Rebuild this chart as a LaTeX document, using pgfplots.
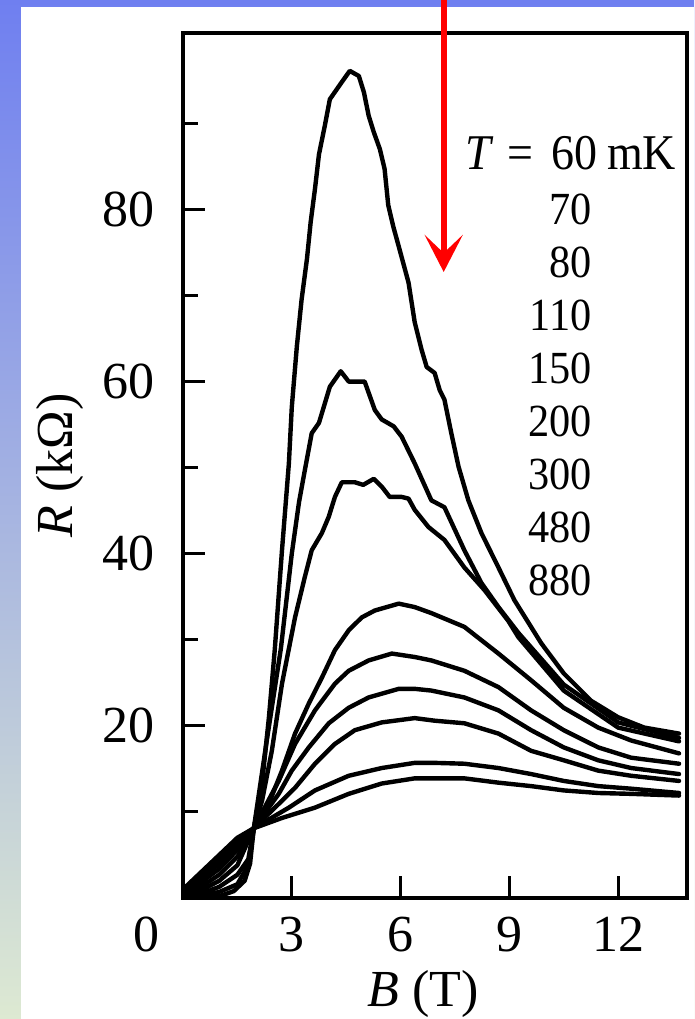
\documentclass[border=0pt]{standalone}
\usepackage{fontspec}
\setmainfont{Liberation Serif}
\usepackage{pgfplots}
\pgfplotsset{compat=1.18}
\usetikzlibrary{arrows.meta}

\definecolor{bandtop}{RGB}{111,127,240}
\definecolor{bandbot}{RGB}{221,233,210}

\newcommand{\bigfont}{\fontsize{52}{52}\selectfont}
\newcommand{\legfont}{\fontsize{46}{46}\selectfont}

\pgfplotsset{curve/.style={black, line width=4.4pt, line join=round, line cap=round, mark=none}}

\begin{document}
\begin{tikzpicture}[x=1pt,y=1pt]
\useasboundingbox (0,0) rectangle (694,1019);
% slide background
\shade[top color=bandtop, bottom color=bandbot] (0,0) rectangle (694,1019);
\fill[white] (21,0) rectangle (694,1012);

\begin{axis}[
    at={(183pt,121pt)}, anchor=south west,
    scale only axis, width=504pt, height=865pt,
    xmin=0, xmax=13.9, ymin=0, ymax=100.5,
    xtick={3,6,9,12}, ytick={20,40,60,80},
    minor ytick={10,30,50,70,90},
    extra x ticks={0}, extra x tick labels={0},
    extra x tick style={major tick length=0pt, xticklabel style={xshift=-37pt}},
    tick pos=left, tick align=inside,
    major tick length=22pt, minor tick length=15pt,
    tick style={black, line width=3pt},
    axis line style={black, line width=3.8pt},
    /pgf/number format/assume math mode=true,
    ticklabel style={font=\bigfont, inner sep=0pt},
    xticklabel style={yshift=-19pt},
    yticklabel style={xshift=-28pt},
    xlabel={{\itshape B} (T)},
    ylabel={{\itshape R} (kΩ)},
    xlabel style={font=\bigfont, at={(axis description cs:0.476,-0.125)}, anchor=base},
    ylabel style={font=\bigfont, at={(axis description cs:-0.244,0.5)}, anchor=center},
]
% 60 mK
\addplot[curve] coordinates {(0,0.1) (0.5,0.1) (1.0,0.2) (1.4,0.8) (1.7,2.0) (1.85,4) (1.95,8) (2.18,13.3) (2.37,21) (2.53,28.8) (2.73,40.4) (2.92,50.5) (3.0,57.0) (3.14,64.1) (3.27,69.5) (3.42,74.3) (3.52,78.5) (3.64,82.4) (3.75,86.4) (3.91,89.7) (4.05,92.8) (4.38,94.8) (4.60,96.1) (4.85,95.5) (4.99,93.6) (5.12,90.9) (5.26,89.0) (5.43,87.0) (5.56,84.7) (5.66,80.5) (5.80,78.0) (5.95,75.7) (6.22,71.5) (6.39,66.9) (6.58,63.7) (6.72,61.7) (6.94,61.0) (7.08,59) (7.21,57.9) (7.40,54) (7.60,50.1) (7.87,46.2) (8.23,42.4) (8.70,38.4) (9.14,34.6) (9.88,29.6) (10.5,26.1) (11.26,22.9) (12.0,21) (12.72,19.8) (13.68,19.1)};
% 70 mK
\addplot[curve] coordinates {(0,0.1) (0.5,0.3) (1.0,0.7) (1.5,1.6) (1.8,3.8) (1.95,8) (2.3,18) (2.7,29) (3.0,40) (3.2,46) (3.36,49.7) (3.55,54.0) (3.75,55.2) (4.05,59.4) (4.35,61.2) (4.57,60.0) (5.01,60) (5.29,56.7) (5.48,55.6) (5.81,54.8) (6.03,53.6) (6.39,50.5) (6.85,46.2) (7.21,45.4) (7.76,40.4) (8.23,36.6) (8.70,33.8) (9.25,30.8) (10.5,24.8) (12,20.4) (13.68,18.6)};
% 80 mK
\addplot[curve] coordinates {(0,0.2) (0.5,0.5) (1.0,1.3) (1.5,2.7) (1.8,4.5) (1.95,8) (2.18,11.3) (2.45,17.1) (2.73,24.9) (3.09,32.6) (3.36,37.3) (3.55,40.4) (3.83,42.4) (4.02,44.3) (4.19,46.6) (4.38,48.3) (4.74,48.3) (4.97,48) (5.26,48.7) (5.48,47.8) (5.70,46.6) (6.03,46.6) (6.22,46.4) (6.39,45.1) (6.77,43.1) (7.21,41.6) (7.76,38.4) (8.31,35.8) (8.97,32.2) (9.25,30.3) (10.5,24.1) (12,19.8) (13.68,18.2)};
% 110 mK
\addplot[curve] coordinates {(0,0.2) (0.5,0.9) (1.0,2.0) (1.5,3.8) (1.95,8.1) (2.37,11) (2.73,14.8) (3.09,19.1) (3.47,22.6) (3.83,25.6) (4.19,28.8) (4.57,31.1) (4.93,32.6) (5.29,33.4) (5.95,34.2) (6.39,33.8) (6.85,33.1) (7.76,31.5) (8.7,28.4) (9.6,25.3) (10.5,22.1) (11.45,19.8) (12.36,18.3) (13.68,16.8)};
% 150 mK
\addplot[curve] coordinates {(0,0.3) (0.5,1.3) (1.0,2.7) (1.5,4.8) (1.95,8.1) (2.64,13.6) (3.09,17.9) (3.64,21.8) (4.19,24.9) (4.57,26.4) (5.12,27.6) (5.76,28.4) (6.39,28.0) (6.85,27.6) (7.76,26.4) (8.7,24.5) (9.6,21.8) (10.5,19.5) (11.45,17.5) (12.36,16.3) (13.68,15.6)};
% 200 mK
\addplot[curve] coordinates {(0,0.4) (0.5,1.8) (1.0,3.4) (1.5,5.6) (1.95,8.1) (2.64,12.1) (3.0,14.8) (3.47,17.5) (4.02,20.3) (4.57,22.1) (5.12,23.3) (5.95,24.3) (6.39,24.3) (6.85,24.1) (7.76,23.3) (8.7,21.8) (9.6,19.5) (10.5,17.5) (11.45,16.0) (12.36,15.1) (13.68,14.4)};
% 300 mK
\addplot[curve] coordinates {(0,0.6) (0.5,2.2) (1.0,4.0) (1.5,6.2) (1.95,8.1) (2.73,11.3) (3.09,12.8) (3.64,15.6) (4.19,17.9) (4.74,19.5) (5.48,20.4) (6.39,20.9) (6.94,20.6) (7.76,20.3) (8.7,19.1) (9.6,17.1) (10.5,16.0) (11.45,14.8) (12.36,14.2) (13.68,13.6)};
% 480 mK
\addplot[curve] coordinates {(0,0.8) (0.5,2.6) (1.0,4.6) (1.5,6.7) (1.95,8.1) (2.92,10.5) (3.64,12.5) (4.57,14.2) (5.48,15.1) (6.39,15.7) (6.94,15.7) (7.76,15.6) (8.7,15.1) (9.6,14.4) (10.5,13.6) (11.45,13.0) (12.36,12.7) (13.68,12.2)};
% 880 mK
\addplot[curve] coordinates {(0,1.0) (0.5,3.0) (1.0,5.0) (1.5,7.0) (1.95,8.1) (2.73,9.3) (3.64,10.5) (4.57,12.1) (5.48,13.3) (6.39,13.9) (6.94,13.9) (7.76,13.9) (8.7,13.4) (9.6,13.0) (10.5,12.5) (11.45,12.2) (12.36,12.1) (13.68,11.9)};
\end{axis}

% temperature list
\begin{scope}[every node/.style={inner sep=0pt, xscale=0.92}]
\node[anchor=base west, font=\fontsize{50}{50}\selectfont] at (465,849) {\itshape T};
\node[anchor=base, font=\fontsize{50}{50}\selectfont] at (520,849) {=};
\node[anchor=base east, font=\fontsize{50}{50}\selectfont] at (598,849) {60};
\node[anchor=base west, font=\fontsize{50}{50}\selectfont] at (607,849) {mK};
\foreach \t/\yy in {70/794, 80/741, 110/688, 150/635, 200/582, 300/529, 480/476, 880/423}
  \node[anchor=base east, font=\legfont] at (592,\yy) {\t};
\end{scope}

% red arrow
\draw[red, line width=6pt, -{Stealth[length=37pt, width=38pt, inset=18pt]}] (443.7,1019) -- (443.7,747);
\end{tikzpicture}
\end{document}
